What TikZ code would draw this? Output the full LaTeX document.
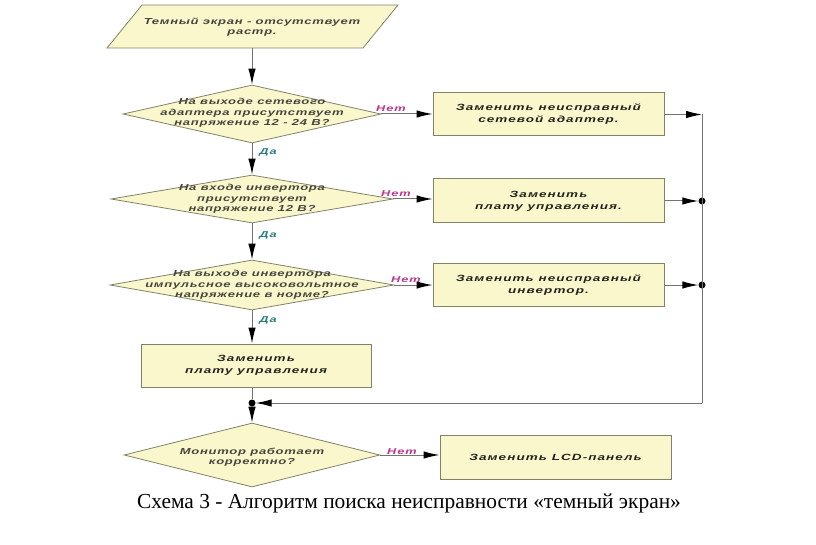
\documentclass[tikz,border=0pt]{standalone}
\usepackage{fontspec}
\setmainfont{Liberation Serif}
\newfontfamily\boxfont[LetterSpace=12,FakeStretch=1.5]{Liberation Sans}
\newfontfamily\diafont[LetterSpace=8,FakeStretch=1.5]{Liberation Sans}
\usetikzlibrary{shapes.geometric,arrows.meta}
\definecolor{fillc}{RGB}{250,247,204}
\definecolor{edgec}{RGB}{130,130,105}
\definecolor{linec}{RGB}{115,115,115}
\definecolor{noc}{RGB}{185,55,140}
\definecolor{yesc}{RGB}{40,125,125}
\definecolor{txtc}{RGB}{35,35,30}
\definecolor{dtxtc}{RGB}{70,70,60}
\begin{document}
\begin{tikzpicture}[x=1pt,y=-1pt,
  box/.style={draw=edgec, fill=fillc, line width=1pt, rectangle, inner sep=0pt, align=center,
    minimum width=231pt, minimum height=43pt,
    font=\boxfont\bfseries\itshape\fontsize{9}{12}\selectfont, text=txtc},
  dia/.style={draw=edgec, fill=fillc, line width=0.8pt, diamond, inner sep=0pt},
  dtext/.style={align=center, inner sep=0pt, font=\diafont\bfseries\itshape\fontsize{8.7}{10.5}\selectfont, text=dtxtc},
  conn/.style={draw=linec, line width=1pt},
  arr/.style={conn, -{Latex[length=16pt,width=7.5pt,color=black]}},
  nolab/.style={text=noc, inner sep=0pt, font=\boxfont\bfseries\itshape\fontsize{8.5}{10}\selectfont},
  yeslab/.style={text=yesc, inner sep=0pt, font=\boxfont\bfseries\itshape\fontsize{8.5}{10}\selectfont},
  dot/.style={circle, fill=black, inner sep=0pt, minimum size=7pt},
]
\path[use as bounding box] (0,0) rectangle (816,545);
% parallelogram
\draw[draw=edgec, fill=fillc, line width=0.8pt] (142,5) -- (398,5) -- (363,48) -- (107,48) -- cycle;
\node[dtext] (p) at (252,27) {Темный экран - отсутствует\\растр.};
\coordinate (pb) at (252,48);
% diamonds
\node[dia, minimum width=258pt, minimum height=58pt] (d1) at (252,114) {};
\node[dtext] (t1) at (252,113) {На выходе сетевого\\адаптера присутствует\\напряжение 12 - 24 В?};
\node[dia, minimum width=282pt, minimum height=48pt] (d2) at (252,199) {};
\node[dtext] (t2) at (d2) {На входе инвертора\\присутствует\\напряжение 12 В?};
\node[dia, minimum width=284pt, minimum height=50pt] (d3) at (252,285) {};
\node[dtext] (t3) at (d3) {На выходе инвертора\\импульсное высоковольтное\\напряжение в норме?};
\node[dia, minimum width=256pt, minimum height=64pt] (d5) at (252,455) {};
\node[dtext] (t5) at (252,457) {Монитор работает\\корректно?};
% boxes
\node[box] (b1) at (548.5,114.5) {Заменить неисправный\\сетевой адаптер.};
\node[box, minimum height=44pt] (b2) at (548.5,201) {Заменить\\плату управления.};
\node[box, minimum height=42pt] (b3) at (548.5,285) {Заменить неисправный\\инвертор.};
\node[box, minimum width=230pt] (b4) at (256,365.5) {Заменить\\плату управления};
\node[box, minimum height=44pt] (b5) at (555.5,457) {Заменить LCD-панель};
% junctions
\coordinate (j1) at (702,114.5);
\node[dot] (j2) at (702,201) {};
\node[dot] (j3) at (702,285) {};
\coordinate (j4) at (702,403);
\node[dot] (j5) at (252,403) {};
% main flow
\draw[arr] (pb) -- (d1.north);
\draw[arr] (d1.south) -- (d2.north);
\draw[arr] (d2.south) -- (d3.north);
\draw[arr] (d3.south) -- (b4.north -| d3.south);
\draw[conn] (j5 |- b4.south) -- (j5);
\draw[arr] (j5) -- (d5.north);
% no branches
\draw[arr] (d1.east) -- (d1.east -| b1.west);
\draw[arr] (d2.east) -- (d2.east -| b2.west);
\draw[arr] (d3.east) -- (d3.east -| b3.west);
\draw[arr] (d5.east) -- (d5.east -| b5.west);
% returns
\draw[arr] (b1.east) -- (j1);
\draw[arr] (b2.east) -- (j2);
\draw[arr] (b3.east) -- (j3);
\draw[conn] (j1) -- (j4);
\draw[arr] (j4) -- (j5);
% labels
\node[nolab, anchor=south] (n1) at (391,112) {Нет};
\node[nolab, anchor=south] (n2) at (396,197) {Нет};
\node[nolab, anchor=south] (n3) at (406,283) {Нет};
\node[nolab, anchor=south] (n5) at (402,455) {Нет};
\node[yeslab] (y1) at (268,152) {Да};
\node[yeslab] (y2) at (268,235) {Да};
\node[yeslab] (y3) at (268,320) {Да};
% caption
\node[anchor=base, font=\fontsize{21.4}{26}\selectfont] (cap) at (409,508) {Схема 3 - Алгоритм поиска неисправности «темный экран»};
\end{tikzpicture}
\end{document}
